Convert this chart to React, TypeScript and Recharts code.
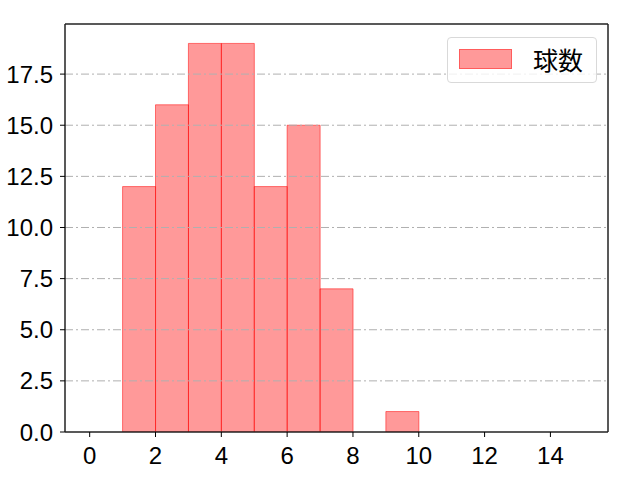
import React from "react";
import { ComposedChart, Bar, XAxis, YAxis, ReferenceLine, Legend } from "recharts";

const binCenters = [1.5, 2.5, 3.5, 4.5, 5.5, 6.5, 7.5, 9.5];
const counts = [12, 16, 19, 19, 12, 15, 7, 1];
const xTicks = [0, 2, 4, 6, 8, 10, 12, 14];
const yTicks = [0, 2.5, 5, 7.5, 10, 12.5, 15, 17.5];
const xDomain = [-0.75, 15.75];
const yDomain = [0, 19.95];
const seriesName = "球数";

const data = binCenters.map((c, i) => ({ x: c, v: counts[i] }));

const tickStyle = { fill: "#000", fontSize: 24, fontFamily: "Liberation Sans" };

function LegendBox() {
  return (
    <div
      style={{
        position: "absolute",
        left: 447,
        top: 37,
        width: 150,
        height: 46,
        border: "1px solid #d9d9d9",
        borderRadius: 4,
        background: "rgba(255,255,255,0.8)",
        boxSizing: "border-box",
      }}
    >
      <div
        style={{
          position: "absolute",
          left: 11,
          top: 11,
          width: 53,
          height: 20,
          background: "rgba(255,0,0,0.4)",
          border: "1px solid rgba(255,0,0,0.4)",
          boxSizing: "border-box",
        }}
      />
      <div
        style={{
          position: "absolute",
          left: 85,
          top: 6,
          fontSize: 25,
          fontFamily: "Noto Sans CJK JP",
          lineHeight: "30px",
          color: "#000",
        }}
      >
        {seriesName}
      </div>
    </div>
  );
}

export default function App() {
  return (
    <div style={{ position: "absolute", left: 0, top: 0, width: 640, height: 480, background: "#fff" }}>
      <ComposedChart
        width={640}
        height={480}
        data={data}
        margin={{ top: 24, right: 32, bottom: 0, left: 0 }}
        barCategoryGap={0}
        barGap={0}
      >
        <XAxis
          dataKey="x"
          type="number"
          domain={xDomain}
          ticks={xTicks}
          interval={0}
          allowDataOverflow
          tick={tickStyle}
          tickLine={{ stroke: "#000", strokeWidth: 1 }}
          axisLine={{ stroke: "#222", strokeWidth: 1.5 }}
          tickSize={5}
          tickMargin={10}
          height={48}
        />
        <YAxis
          type="number"
          domain={yDomain}
          ticks={yTicks}
          interval={0}
          allowDataOverflow
          tickFormatter={(v: number) => v.toFixed(1)}
          tick={tickStyle}
          tickLine={{ stroke: "#000", strokeWidth: 1 }}
          axisLine={{ stroke: "#222", strokeWidth: 1.5 }}
          tickSize={5}
          tickMargin={7}
          width={65}
        />
        <Bar
          dataKey="v"
          name={seriesName}
          fill="#ff0000"
          fillOpacity={0.4}
          stroke="#ff0000"
          strokeOpacity={0.5}
          strokeWidth={1}
          isAnimationActive={false}
        />
        {yTicks.slice(1).map((t) => (
          <ReferenceLine key={t} y={t} stroke="#b0b0b0" strokeWidth={1} strokeDasharray="8 3 2 3" />
        ))}
        <ReferenceLine y={yDomain[1]} stroke="#222" strokeWidth={1.5} />
        <ReferenceLine x={xDomain[1]} stroke="#222" strokeWidth={1.5} />
        <Legend content={() => <LegendBox />} wrapperStyle={{ position: "absolute", left: 0, top: 0, width: 0, height: 0 }} />
      </ComposedChart>
    </div>
  );
}
